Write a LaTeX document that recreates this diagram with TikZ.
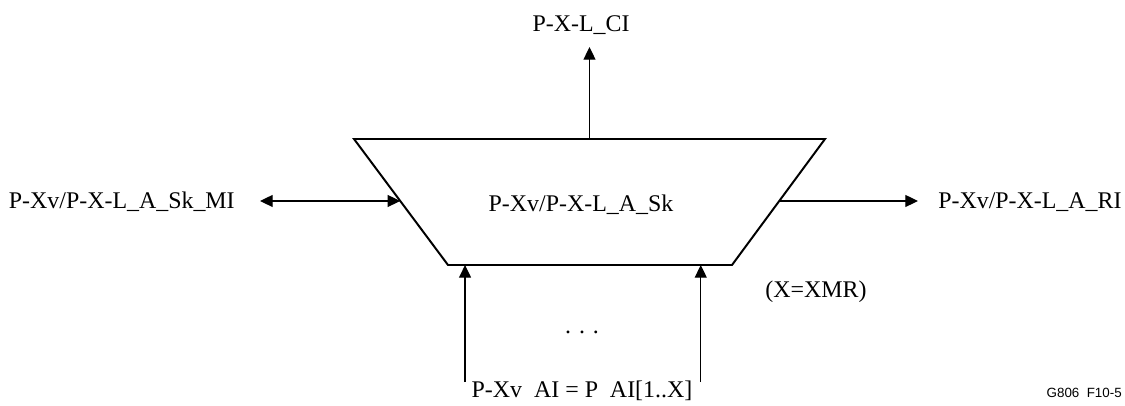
\documentclass[tikz,border=0pt]{standalone}
\usepackage{fontspec}
\setmainfont{Liberation Serif}
\newfontfamily\tagfont{Liberation Sans}
\usetikzlibrary{arrows.meta,calc}

\begin{document}
\begin{tikzpicture}[
    x=0.025cm,y=-0.025cm,
    >={Triangle[length=9pt,width=8.5pt]},
    font=\fontsize{17}{20}\selectfont,
    sink/.style={line width=1.4pt,line join=miter},
    sig/.style={line width=0.9pt,->},
    bisig/.style={line width=0.9pt,<->},
    lbl/.style={inner sep=0pt,anchor=base},
  ]
  \useasboundingbox (0,0) rectangle (1125,406);

  % ---------------------------------------------------------------- sink block
  \coordinate (tl) at (354,139);
  \coordinate (tr) at (825,139);
  \coordinate (br) at (732,265);
  \coordinate (bl) at (448,265);
  \draw[sink] (tl) -- (tr) -- (br) -- (bl) -- cycle;
  \node[lbl] (fn) at (581,212) {P-Xv/P-X-L\_A\_Sk};

  % ---------------------------------------------------------------- points on the edges
  \coordinate (ci) at ($(tl)!0.5!(tr)$);
  \coordinate (mi) at ($(tl)!0.492!(bl)$);
  \coordinate (ri) at ($(tr)!0.492!(br)$);
  \coordinate (ai1) at ($(bl)!0.06!(br)$);
  \coordinate (aiX) at ($(bl)!0.89!(br)$);

  % ---------------------------------------------------------------- free ends
  \coordinate (ci-end) at (ci |- 0,47);
  \coordinate (mi-end) at (260,0 |- mi);
  \coordinate (ri-end) at (918,0 |- ri);
  \coordinate (ai1-end) at (ai1 |- 0,382);
  \coordinate (aiX-end) at (aiX |- 0,382);

  % ---------------------------------------------------------------- signals
  \draw[sig] (ci) -- (ci-end);
  \draw[bisig] (mi-end) -- (mi);
  \draw[sig] (ri) -- (ri-end);
  \draw[sig] (ai1-end) -- (ai1);
  \draw[sig] (aiX-end) -- (aiX);

  % ---------------------------------------------------------------- labels
  \node[lbl] (ci-lbl) at (581,32) {P-X-L\_CI};
  \node[lbl,anchor=base east] (mi-lbl) at (235,209) {P-Xv/P-X-L\_A\_Sk\_MI};
  \node[lbl,anchor=base west] (ri-lbl) at (938,209) {P-Xv/P-X-L\_A\_RI};
  \node[lbl] (xmr) at (816,298) {(X=XMR)};
  \node[lbl] (dots) at (582,334) {. . .};
  \node[lbl] (ai-lbl) at (582,397) {P-Xv~~AI = P~~AI[1..X]};
  \node[lbl,anchor=base east,font=\tagfont\fontsize{9.5}{11}\selectfont] (tag) at (1122,397) {G806~~F10-5};
\end{tikzpicture}
\end{document}
